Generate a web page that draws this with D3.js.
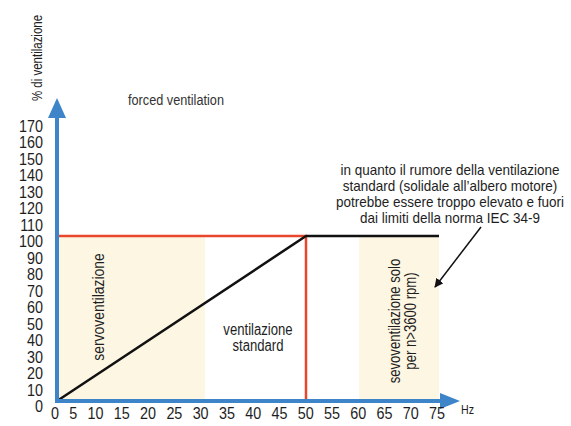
<!DOCTYPE html>
<html>
<head>
<meta charset="utf-8">
<script src="https://cdn.jsdelivr.net/npm/d3@7"></script>
<style>
  body { margin: 0; background: #fff; }
  svg text { font-family: "Liberation Sans", Arial, sans-serif; fill: #1e1e1e; }
</style>
</head>
<body>
<script>
// Data
var xTicks = [0, 5, 10, 15, 20, 25, 30, 35, 40, 45, 50, 55, 60, 65, 70, 75];
var yTicks = [0, 10, 20, 30, 40, 50, 60, 70, 80, 90, 100, 110, 120, 130, 140, 150, 160, 170];
var limitLine = [[0, 100], [50, 100], [50, 0]];      // red
var ventLine = [[0, 0], [50, 100], [75, 100]];       // black
var servoBands = [[0, 30], [60, 75]];                // beige zones, up to 100%
var bandTop = 100;
var noteLines = ["in quanto il rumore della ventilazione",
                 "standard (solidale all\u2019albero motore)",
                 "potrebbe essere troppo elevato e fuori",
                 "dai limiti della norma IEC 34-9"];

var width = 571, height = 426;
var narrow = 0.82;   // condensed look of the original font
var tickNarrow = 0.87;

// Set the ranges (the drawing is slightly stretched toward the right)
var x = d3.scaleLinear().domain([0, 30, 50, 75]).range([57, 205, 306, 439]);
var y = d3.scaleLinear().domain([0, 170]).range([401, 120.5]);

var blue = "#3e84c8", red = "#e8472e", beige = "#fdf6e2";

var svg = d3.select("body")
    .append("svg")
        .attr("width", width)
        .attr("height", height);

// condensed text block: lines centred (or anchored) at px,py, optional rotation
function label(px, py, rot, size, lines, anchor, k) {
    var t = svg.append("text")
        .attr("transform", "translate(" + px + "," + py + ") rotate(" + rot + ") scale(" + (k || narrow) + ",1)")
        .style("text-anchor", anchor || "middle")
        .style("font-size", size + "px");
    t.selectAll("tspan")
        .data(lines)
      .enter().append("tspan")
        .attr("x", 0)
        .attr("dy", function(d, i) { return i === 0 ? 0 : 16; })
        .text(function(d) { return d; });
    return t;
}

// beige zones
svg.selectAll("rect.band")
    .data(servoBands)
  .enter().append("rect")
    .attr("class", "band")
    .attr("x", function(d) { return x(d[0]); })
    .attr("y", y(bandTop))
    .attr("width", function(d) { return x(d[1]) - x(d[0]); })
    .attr("height", y(0) - y(bandTop))
    .style("fill", beige);

var line = d3.line()
    .x(function(d) { return x(d[0]); })
    .y(function(d) { return y(d[1]); });

svg.append("path")
    .attr("d", line(limitLine))
    .style("fill", "none")
    .style("stroke", red)
    .style("stroke-width", 2.5);

svg.append("path")
    .attr("d", line(ventLine))
    .style("fill", "none")
    .style("stroke", "#111")
    .style("stroke-width", 2.5);

// axes (blue arrows)
svg.append("line")
    .attr("x1", x(0)).attr("y1", y(0) + 2)
    .attr("x2", x(0)).attr("y2", 116)
    .style("stroke", blue).style("stroke-width", 4);
svg.append("path")
    .attr("d", "M" + x(0) + ",98 L" + (x(0) - 9) + ",118 L" + (x(0) + 9) + ",118 Z")
    .style("fill", blue);

svg.append("line")
    .attr("x1", x(0) - 2).attr("y1", y(0))
    .attr("x2", 442).attr("y2", y(0))
    .style("stroke", blue).style("stroke-width", 4);
svg.append("path")
    .attr("d", "M460," + y(0) + " L440," + (y(0) - 8) + " L440," + (y(0) + 8) + " Z")
    .style("fill", blue);

// y tick labels
var yAxis = d3.axisLeft(y).tickValues(yTicks).tickSize(0).tickPadding(14);
var gy = svg.append("g")
    .attr("transform", "translate(" + x(0) + ",0)")
    .call(yAxis);
gy.select(".domain").remove();
gy.selectAll("text")
    .attr("x", -14 / tickNarrow)
    .attr("dy", "0.66em")
    .attr("transform", "scale(" + tickNarrow + ",1)")
    .attr("font-family", null)
    .attr("fill", "#1e1e1e")
    .style("font-size", "16.5px");

// x tick labels, set one after another as in the original
var xt = svg.append("text")
    .attr("transform", "translate(51,419) scale(" + tickNarrow + ",1)")
    .style("font-size", "16.5px");
xt.selectAll("tspan")
    .data(xTicks)
  .enter().append("tspan")
    .attr("dx", function(d, i) { return i === 0 ? 0 : 10.3 / tickNarrow; })
    .text(function(d) { return d; });

// axis titles
label(42, 58, -90, 14, ["% di ventilazione"]);
label(461, 414, 0, 13, ["Hz"], "start");
label(128, 105, 0, 15.5, ["forced ventilation"], "start").style("fill", "#333");

// zone labels
label(104, 307, -90, 17, ["servoventilazione"]);
label(258, 335, 0, 16, ["ventilazione", "standard"]);
label(400, 321, -90, 16, ["sevoventilazione solo", "per n>3600 rpm)"]);

// note with arrow
label(450, 175, 0, 15, noteLines, "middle", 0.9);

svg.append("defs").append("marker")
    .attr("id", "head")
    .attr("viewBox", "0 0 10 10")
    .attr("refX", 9).attr("refY", 5)
    .attr("markerWidth", 9).attr("markerHeight", 9)
    .attr("markerUnits", "userSpaceOnUse")
    .attr("orient", "auto")
  .append("path")
    .attr("d", "M0,0 L10,5 L0,10 Z")
    .style("fill", "#111");

svg.append("line")
    .attr("x1", 481).attr("y1", 227)
    .attr("x2", 435).attr("y2", 287)
    .style("stroke", "#111").style("stroke-width", 1.5)
    .attr("marker-end", "url(#head)");
</script>
</body>
</html>
